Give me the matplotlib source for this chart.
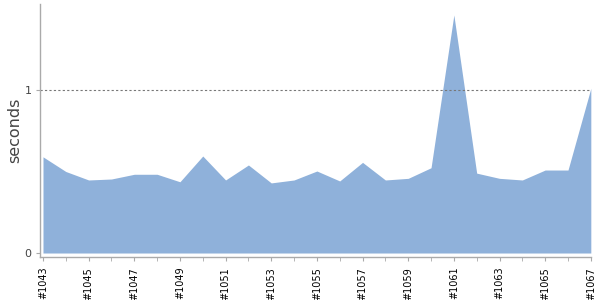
import matplotlib
matplotlib.use("Agg")
import matplotlib.pyplot as plt

builds = ["#%d" % n for n in range(1043, 1068)]
durations = [0.59, 0.50, 0.448, 0.454, 0.483, 0.483, 0.437, 0.595, 0.448, 0.54,
             0.43, 0.448, 0.503, 0.442, 0.556, 0.448, 0.458, 0.523, 1.46, 0.49,
             0.458, 0.448, 0.509, 0.509, 1.01]
y_ticks = [0, 1]

fig = plt.figure(figsize=(6, 3), dpi=100)
ax = fig.add_axes([0.0667, 0.143, 0.918, 0.844])

x = list(range(len(builds)))
ax.fill_between(x, durations, 0, color="#8fb1da", linewidth=0)
ax.axhline(1, color="#777777", linestyle=(0, (2, 2)), linewidth=0.8)

ax.set_xlim(-0.13, len(builds) - 1)
ax.set_ylim(-0.025, 1.528)

ax.set_xticks(x, minor=True)
ax.set_xticks(x[::2])
ax.set_xticklabels(builds[::2], rotation=90, fontsize=7, color="black")
ax.tick_params(axis="x", which="both", length=3, color="#aaaaaa", pad=4)

ax.set_yticks(y_ticks)
ax.set_yticklabels([str(v) for v in y_ticks], fontsize=8, color="#444444")
ax.tick_params(axis="y", length=3, color="#aaaaaa", pad=3)

ax.set_ylabel("seconds", fontsize=11.5, color="#444444", labelpad=2)

for side in ["top", "right"]:
    ax.spines[side].set_visible(False)
for side in ["left", "bottom"]:
    ax.spines[side].set_color("#aaaaaa")
    ax.spines[side].set_linewidth(1)

fig.savefig("out.png", dpi=100)
